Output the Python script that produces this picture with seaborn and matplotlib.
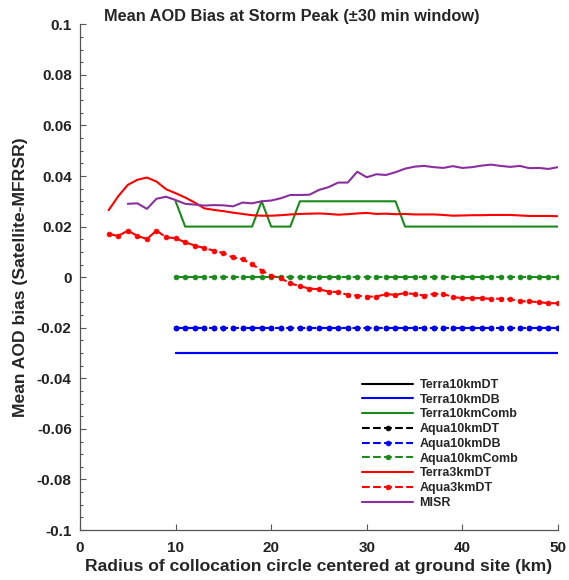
import numpy as np
import pandas as pd
import matplotlib
matplotlib.use("Agg")
import matplotlib.pyplot as plt
import seaborn as sns

# Radii (km) of the collocation circle
radius_modis = list(range(10, 51))
radius_3km = list(range(3, 51))
radius_misr = list(range(5, 51))

# Mean AOD bias values
terra10_dt = [-0.03] * 41
terra10_db = [-0.03] * 41
terra10_comb = ([0.03] + [0.02] * 8 + [0.03] + [0.02] * 3
                + [0.03] * 11 + [0.02] * 17)
aqua10_dt = [-0.02] * 41
aqua10_db = [-0.02] * 41
aqua10_comb = [0.0] * 41
terra3_dt = [0.0265, 0.0320, 0.0365, 0.0385, 0.0394, 0.0378, 0.0348, 0.0332,
             0.0315, 0.0295, 0.0272, 0.0266, 0.0261, 0.0255, 0.0250, 0.0245,
             0.0243, 0.0243, 0.0245, 0.0248, 0.0250, 0.0251, 0.0252, 0.0250,
             0.0247, 0.0249, 0.0252, 0.0254, 0.0250, 0.0251, 0.0249, 0.0250,
             0.0248, 0.0248, 0.0248, 0.0246, 0.0243, 0.0244, 0.0245, 0.0245,
             0.0246, 0.0246, 0.0246, 0.0244, 0.0242, 0.0242, 0.0242, 0.0241]
aqua3_dt = [0.0171, 0.0163, 0.0184, 0.0163, 0.0151, 0.0184, 0.0158, 0.0154,
            0.0138, 0.0125, 0.0115, 0.0105, 0.0095, 0.0078, 0.0071, 0.0051,
            0.0026, 0.0006, -0.0005, -0.0024, -0.0036, -0.0045, -0.0048, -0.0057,
            -0.0059, -0.0070, -0.0073, -0.0077, -0.0077, -0.0067, -0.0070, -0.0063,
            -0.0067, -0.0073, -0.0066, -0.0066, -0.0079, -0.0083, -0.0083, -0.0083,
            -0.0086, -0.0085, -0.0087, -0.0095, -0.0096, -0.0099, -0.0103, -0.0103]
misr = [0.0290, 0.0292, 0.0270, 0.0310, 0.0318, 0.0305, 0.0290, 0.0287,
        0.0283, 0.0285, 0.0284, 0.0280, 0.0295, 0.0292, 0.0300, 0.0303,
        0.0312, 0.0325, 0.0325, 0.0326, 0.0345, 0.0356, 0.0374, 0.0374,
        0.0417, 0.0395, 0.0407, 0.0404, 0.0415, 0.0429, 0.0437, 0.0440,
        0.0435, 0.0432, 0.0439, 0.0432, 0.0435, 0.0441, 0.0445, 0.0440,
        0.0436, 0.0440, 0.0431, 0.0432, 0.0428, 0.0435]

x_ticks = [0, 10, 20, 30, 40, 50]
y_ticks = [-0.1, -0.08, -0.06, -0.04, -0.02, 0, 0.02, 0.04, 0.06, 0.08, 0.1]
y_tick_labels = ["-0.1", "-0.08", "-0.06", "-0.04", "-0.02", "0",
                 "0.02", "0.04", "0.06", "0.08", "0.1"]

sns.set_style("ticks")
plt.rcParams["font.family"] = ["Liberation Sans", "DejaVu Sans"]
plt.rcParams["font.weight"] = "bold"

series = [
    ("Terra10kmDT", radius_modis, terra10_dt, "black", "-", None),
    ("Terra10kmDB", radius_modis, terra10_db, "#0000ff", "-", None),
    ("Terra10kmComb", radius_modis, terra10_comb, "#1a8a1a", "-", None),
    ("Aqua10kmDT", radius_modis, aqua10_dt, "black", "--", "o"),
    ("Aqua10kmDB", radius_modis, aqua10_db, "#0000ff", "--", "o"),
    ("Aqua10kmComb", radius_modis, aqua10_comb, "#1a8a1a", "--", "o"),
    ("Terra3kmDT", radius_3km, terra3_dt, "#ff0000", "-", None),
    ("Aqua3kmDT", radius_3km, aqua3_dt, "#ff0000", "--", "o"),
    ("MISR", radius_misr, misr, "#8b2fa0", "-", None),
]

fig = plt.figure(figsize=(5.69, 5.80), dpi=100)
ax = fig.add_axes([80 / 569, 1 - 530 / 580, 478 / 569, 505.7 / 580])

for name, xs, ys, color, ls, mk in series:
    df = pd.DataFrame({"radius": xs, "bias": ys})
    kws = dict(color=color, linewidth=1.5, label=name)
    if mk:
        kws.update(linestyle="--", dashes=(4, 2.5), marker=mk, markersize=3.5,
                   markeredgecolor=color, markeredgewidth=0.5)
    sns.lineplot(data=df, x="radius", y="bias", ax=ax, **kws)

ax.set_xlim(0, 50)
ax.set_ylim(-0.1, 0.1)
ax.set_xticks(x_ticks)
ax.set_xticklabels([str(t) for t in x_ticks])
ax.set_yticks(y_ticks)
ax.set_yticklabels(y_tick_labels)
ax.set_yticks(np.arange(-0.1, 0.1001, 0.005), minor=True)
ax.tick_params(axis="both", direction="in", labelsize=11, colors="#555555",
               labelcolor="#222222", length=4, width=0.8, pad=6)
ax.tick_params(axis="y", which="minor", direction="in", length=2.5,
               width=0.8, colors="#555555")
ax.tick_params(axis="x", pad=8)
for lab in ax.get_xticklabels() + ax.get_yticklabels():
    lab.set_fontweight("bold")

sns.despine(ax=ax, top=True, right=True)
for s in ["left", "bottom"]:
    ax.spines[s].set_color("#555555")
    ax.spines[s].set_linewidth(0.9)

ax.set_title("Mean AOD Bias at Storm Peak (\u00b130 min window)", fontsize=11.8,
             fontweight="bold", x=0.4435, pad=2)
ax.set_xlabel("Radius of collocation circle centered at ground site (km)",
              fontsize=12.6, fontweight="bold", labelpad=3)
ax.set_ylabel("Mean AOD bias (Satellite-MFRSR)", fontsize=12.6,
              fontweight="bold", labelpad=6)

leg = ax.legend(loc="upper left", bbox_to_anchor=(0.59, 0.2986), frameon=False,
                fontsize=9, handlelength=4.1, handletextpad=0.5,
                labelspacing=0.22, borderpad=0, borderaxespad=0, numpoints=1)
for t in leg.get_texts():
    t.set_fontweight("bold")

fig.savefig("out.png", dpi=100, facecolor="white")
